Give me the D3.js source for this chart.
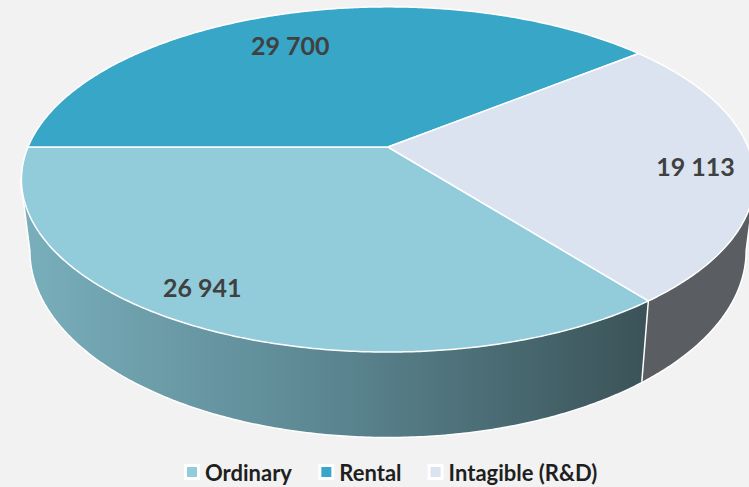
<!DOCTYPE html>
<html>
<head>
<meta charset="utf-8">
<script src="https://cdn.jsdelivr.net/npm/d3@7.9.0/dist/d3.min.js"></script>
<style>
  body { margin: 0; background: #f2f2f2; }
  svg { display: block; }
</style>
</head>
<body>
<svg id="chart" width="749" height="487"></svg>
<script>
// ===== DATA =====
const categories = ["Ordinary", "Rental", "Intagible (R&D)"];
const values = [26941, 29700, 19113];
const labels = ["26 941", "29 700", "19 113"];

const topColors = ["#92ccdb", "#38a6c7", "#dae3ef"];
const sideColors = ["url(#ordSide)", "#2b7f98", "#5a5d62"];

const svg = d3.select("#chart");
const fontFamily = "Lato, 'Open Sans', sans-serif";

// perspective of the tilted disk
const cx = 388, cy = 147, rx = 360, ry = 166.5;
const persp = 0.188, depth = 68.8, taper = 0.025;

function proj(theta, r, h) {
  const u = r * Math.cos(theta), v = r * Math.sin(theta);
  const w = 1 - persp * v;
  return [cx + rx * u * (1 - taper * h) / w, cy + (ry * v + depth * h) / w];
}

// screen ellipse of the top rim (for label fitting)
const ellA = rx / Math.sqrt(1 - persp * persp);
const ellTop = proj(-Math.PI / 2, 1, 0)[1], ellBot = proj(Math.PI / 2, 1, 0)[1];
const ellCy = (ellTop + ellBot) / 2, ellB = (ellBot - ellTop) / 2;
const inside = (x, y) => ((x - cx) / ellA) ** 2 + ((y - ellCy) / ellB) ** 2 <= 1;

const defs = svg.append("defs");
const grad = defs.append("linearGradient")
  .attr("id", "ordSide")
  .attr("gradientUnits", "userSpaceOnUse")
  .attr("x1", 20).attr("x2", 645).attr("y1", 0).attr("y2", 0);
grad.append("stop").attr("offset", 0).attr("stop-color", "#79afbc");
grad.append("stop").attr("offset", 0.5).attr("stop-color", "#5b8691");
grad.append("stop").attr("offset", 1).attr("stop-color", "#3b5358");

const total = d3.sum(values);
// d3 angle 0 = 12 o'clock; theta = angle - PI/2. Ordinary ends at the left (theta = PI)
const start = 1.5 * Math.PI - 2 * Math.PI * values[0] / total;
const arcs = d3.pie().sort(null).startAngle(start).endAngle(start + 2 * Math.PI)(values);
arcs.forEach(a => {
  a.t0 = a.startAngle - Math.PI / 2;
  a.t1 = a.endAngle - Math.PI / 2;
});

// ===== SIDE WALL (front facing part only) =====
const visLo = Math.asin(persp), visHi = Math.PI - Math.asin(persp);

function wallPath(t0, t1) {
  const n = Math.max(2, Math.ceil((t1 - t0) / (Math.PI / 360)));
  const topPts = [], botPts = [];
  for (let j = 0; j <= n; j++) {
    const t = t0 + (t1 - t0) * j / n;
    topPts.push(proj(t, 1, 0));
    botPts.push(proj(t, 1, 1));
  }
  return "M" + topPts.concat(botPts.reverse()).map(p => p.join(",")).join("L") + "Z";
}

const walls = [];
arcs.forEach((a, i) => {
  [-2 * Math.PI, 0, 2 * Math.PI].forEach(shift => {
    const t0 = Math.max(a.t0 + shift, visLo), t1 = Math.min(a.t1 + shift, visHi);
    if (t1 > t0) walls.push({ i, t0, t1 });
  });
});

svg.append("path")
  .attr("d", wallPath(visLo, visHi))
  .attr("fill", "#ffffff")
  .attr("stroke", "#ffffff")
  .attr("stroke-width", 3)
  .attr("stroke-linejoin", "round");

svg.append("g").selectAll("path")
  .data(walls)
  .join("path")
  .attr("d", d => wallPath(d.t0, d.t1))
  .attr("fill", d => sideColors[d.i]);

// slice edges on the side wall
svg.append("g").selectAll("line")
  .data(walls.filter(d => d.t0 > visLo + 0.01))
  .join("line")
  .attr("x1", d => proj(d.t0, 1, 0)[0])
  .attr("y1", d => proj(d.t0, 1, 0)[1])
  .attr("x2", d => proj(d.t0, 1, 1)[0])
  .attr("y2", d => proj(d.t0, 1, 1)[1])
  .attr("stroke", "#ffffff")
  .attr("stroke-width", 1.5);

// ===== TOP FACE =====
function topPath(a) {
  const n = Math.ceil((a.t1 - a.t0) / (Math.PI / 360));
  const pts = [[cx, cy]];
  for (let j = 0; j <= n; j++) pts.push(proj(a.t0 + (a.t1 - a.t0) * j / n, 1, 0));
  return "M" + pts.map(p => p.join(",")).join("L") + "Z";
}

svg.append("g").selectAll("path")
  .data(arcs)
  .join("path")
  .attr("d", topPath)
  .attr("fill", (a, i) => topColors[i])
  .attr("stroke", "#ffffff")
  .attr("stroke-width", 1.5)
  .attr("stroke-linejoin", "round");

// ===== DATA LABELS (inside end) =====
const inset = 12;
const labelSel = svg.append("g").selectAll("text")
  .data(arcs)
  .join("text")
  .attr("text-anchor", "middle")
  .attr("dominant-baseline", "central")
  .attr("font-family", fontFamily)
  .attr("font-weight", "bold")
  .attr("font-size", "25px")
  .attr("fill", "#404040")
  .text((a, i) => labels[i]);

labelSel.each(function (a) {
  const bb = this.getBBox();
  const hw = bb.width / 2 + inset, hh = 10 + inset;
  const mid = (a.t0 + a.t1) / 2;
  let [x, y] = proj(mid, 1, 0);
  const vertical = Math.abs(Math.sin(mid)) > Math.abs(Math.cos(mid));
  const dx = vertical ? 0 : Math.sign(cx - x), dy = vertical ? Math.sign(cy - y) : 0;
  for (let s = 0; s < 400; s++) {
    if (inside(x - hw, y - hh) && inside(x + hw, y - hh) &&
        inside(x - hw, y + hh) && inside(x + hw, y + hh)) break;
    x += dx; y += dy;
  }
  d3.select(this).attr("x", x + (vertical ? 4 : 0)).attr("y", y);
});

// ===== LEGEND =====
const legend = svg.append("g")
  .attr("class", "legend")
  .attr("transform", "translate(187,472)");
const gap = 29;
let lx = 0;
categories.forEach((c, i) => {
  const item = legend.append("g").attr("transform", `translate(${lx},0)`);
  item.append("rect")
    .attr("x", -3).attr("y", -8).attr("width", 16).attr("height", 16)
    .attr("fill", "#ffffff");
  item.append("rect")
    .attr("x", 0).attr("y", -5).attr("width", 10).attr("height", 10)
    .attr("fill", topColors[i]);
  const t = item.append("text")
    .attr("x", 18)
    .attr("y", 0)
    .attr("dominant-baseline", "central")
    .attr("font-family", fontFamily)
    .attr("font-weight", "bold")
    .attr("font-size", "22px")
    .attr("fill", "#1f1f1f")
    .text(c);
  lx += 18 + t.node().getBBox().width + gap;
});
</script>
</body>
</html>
